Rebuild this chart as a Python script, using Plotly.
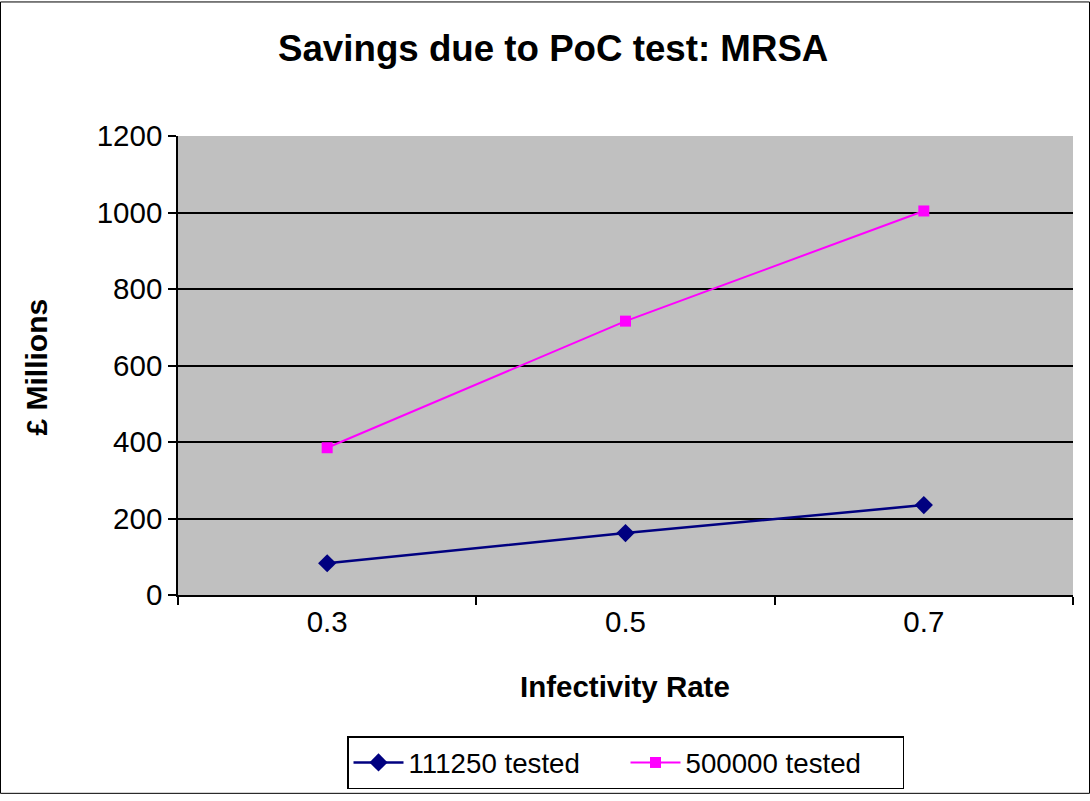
import plotly.graph_objects as go

categories = ["0.3", "0.5", "0.7"]
series_111250 = [83, 162, 235]
series_500000 = [385, 716, 1004]
y_ticks = [0, 200, 400, 600, 800, 1000, 1200]

W, H = 1090, 801
L, R, T, B = 178, 1073, 136, 600
pw, ph = R - L, B - T

def px(x):
    return (x - L) / pw

def py(y):
    return (B - y) / ph

fig = go.Figure()
fig.add_trace(go.Scatter(
    x=categories, y=series_111250, name="111250 tested", mode="lines+markers",
    line=dict(color="#000080", width=2.5),
    marker=dict(symbol="diamond", size=14, color="#000080"),
))
fig.add_trace(go.Scatter(
    x=categories, y=series_500000, name="500000 tested", mode="lines+markers",
    line=dict(color="#FF00FF", width=2),
    marker=dict(symbol="square", size=11, color="#FF00FF"),
))

font = "Arial, Liberation Sans, sans-serif"

fig.update_layout(
    width=W, height=H,
    margin=dict(l=L, r=W - R, t=T, b=H - B),
    paper_bgcolor="white",
    plot_bgcolor="#C0C0C0",
    font=dict(family=font, color="black", size=29),
    showlegend=True,
    legend=dict(
        orientation="h", x=px(347), xanchor="left", y=py(743), yanchor="top",
        bordercolor="black", borderwidth=1.5, bgcolor="white",
        font=dict(size=27.7, family=font), itemwidth=50, entrywidth=212,
    ),
    xaxis=dict(
        type="category", range=[-0.5, 2.5], tickson="boundaries",
        ticks="outside", ticklen=8, tickwidth=1.5, tickcolor="black",
        showline=True, linecolor="black", linewidth=1.5,
        showgrid=False, tickfont=dict(size=29.5), fixedrange=True,
    ),
    yaxis=dict(
        range=[0, 1200], tickvals=y_ticks,
        ticks="outside", ticklen=8, tickwidth=1.5, tickcolor="black",
        showline=True, linecolor="black", linewidth=1.5,
        showgrid=True, gridcolor="black", gridwidth=1.5,
        zeroline=False, tickfont=dict(size=29.5),
    ),
    annotations=[
        dict(text="<b>Savings due to PoC test: MRSA</b>", xref="paper", yref="paper",
             x=px(553), y=py(48), xanchor="center", yanchor="middle",
             showarrow=False, font=dict(size=36.7, family=font)),
        dict(text="<b>Infectivity Rate</b>", xref="paper", yref="paper",
             x=px(625), y=py(693), xanchor="center", yanchor="middle",
             showarrow=False, font=dict(size=29.5, family=font)),
        dict(text="<b>£ Millions</b>", xref="paper", yref="paper",
             x=px(36), y=py(370), xanchor="center", yanchor="middle", textangle=-90,
             showarrow=False, font=dict(size=30, family=font)),
    ],
    shapes=[
        dict(type="rect", xref="paper", yref="paper",
             x0=px(0.5), x1=px(1089.5), y0=py(800.5), y1=py(0.5),
             line=dict(color="black", width=1), layer="below"),
    ],
)

fig.write_html(
    "out.html",
    config={"displayModeBar": False},
    post_script="document.body.style.margin='0';document.body.style.overflow='hidden';",
)
